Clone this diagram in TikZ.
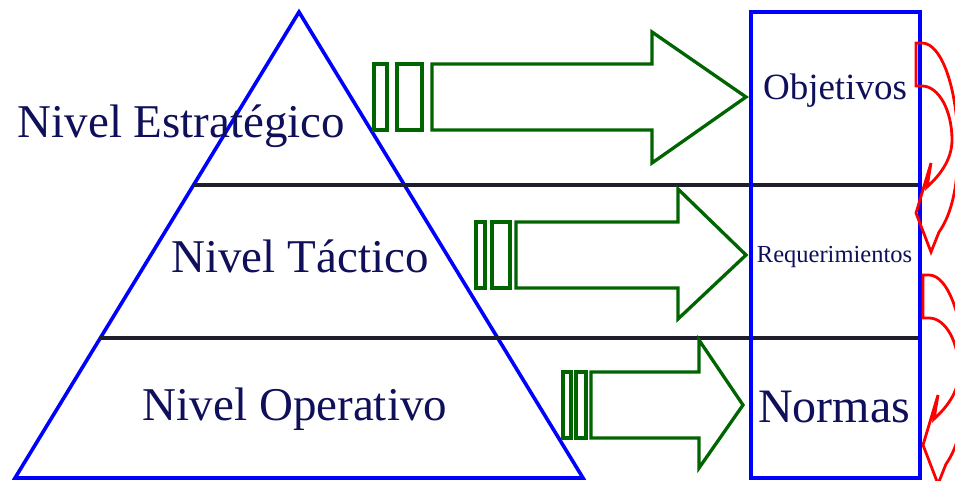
\documentclass[tikz,border=0pt]{standalone}
\usepackage{fontspec}
\setmainfont{Liberation Serif}
\definecolor{pyrblue}{RGB}{0,0,255}
\definecolor{arrgreen}{RGB}{0,100,0}
\definecolor{txtnavy}{RGB}{15,15,90}
\definecolor{sepline}{RGB}{30,30,45}
\definecolor{loopred}{RGB}{255,0,0}

\tikzset{
  pyramid/.style={draw=pyrblue,line width=3.6pt,line join=miter},
  levelsep/.style={draw=sepline,line width=3.4pt},
  outcol/.style={draw=pyrblue,line width=3.6pt},
  flowarrow/.style={draw=arrgreen,line width=3.3pt,line join=miter},
  cyclearrow/.style={draw=loopred,line width=2.8pt,line join=miter},
  level/.style={inner sep=0pt,anchor=base,text=txtnavy,font=\fontsize{47}{56}\selectfont},
  result/.style={inner sep=0pt,anchor=base,text=txtnavy},
  % curved feedback arrow, tail at the origin, head pointing back left
  feedback/.pic={
    \draw[cyclearrow] (0,0) -- (6,0)
      .. controls (25.9,0) and (42,47) .. (42,105)
      .. controls (42,150) and (33,175) .. (23,189)
      -- (15,209) -- (0,170) -- (15,120) -- (11,144)
      .. controls (22,134) and (36,118) .. (36,97)
      .. controls (36,67.2) and (22.6,43) .. (6,43)
      -- (0,43) -- cycle;
  },
}

\begin{document}
\begin{tikzpicture}[x=1pt,y=-1pt]
\useasboundingbox (0,0) rectangle (955,481);
\clip (0,0) rectangle (955,481);

% pyramid of levels
\coordinate (apex) at (299,12);
\coordinate (baseL) at (15,478);
\coordinate (baseR) at (583,478);
\draw[pyramid] (apex) -- (baseL) -- (baseR) -- cycle;

% separators between the levels
\draw[levelsep] (193.6,185) -- (920,185);
\draw[levelsep] (100.3,338) -- (920,338);

% level labels
\node[level] (estr) at (181.5,138) {Nivel Estratégico};
\node[level] (tact) at (300,272) {Nivel Táctico};
\node[level] (oper) at (295,420) {Nivel Operativo};

% green block arrows with stripes
\draw[flowarrow] (374,64) rectangle (387,130);
\draw[flowarrow] (397,64) rectangle (422,130);
\draw[flowarrow] (432,64) -- (652,64) -- (652,32) -- (746,97) -- (652,163) -- (652,130) -- (432,130) -- cycle;

\draw[flowarrow] (476,222) rectangle (485,288);
\draw[flowarrow] (492,222) rectangle (510,288);
\draw[flowarrow] (516,222) -- (678,222) -- (678,189) -- (746,255) -- (678,319) -- (678,288) -- (516,288) -- cycle;

\draw[flowarrow] (563,372) rectangle (571,438);
\draw[flowarrow] (576,372) rectangle (586,438);
\draw[flowarrow] (591,372) -- (699,372) -- (699,340) -- (743,405) -- (699,468) -- (699,438) -- (591,438) -- cycle;

% output column
\draw[outcol] (751,12) rectangle (920,478);
\node[result,font=\fontsize{37}{44}\selectfont] (obj) at (835,100) {Objetivos};
\node[result,font=\fontsize{24.5}{29}\selectfont] (req) at (834.5,262) {Requerimientos};
\node[result,font=\fontsize{48}{57}\selectfont] (norm) at (834,422) {Normas};

% feedback arrows along the right edge
\pic at (916,43) {feedback};
\pic at (923,275) {feedback};
\end{tikzpicture}
\end{document}
